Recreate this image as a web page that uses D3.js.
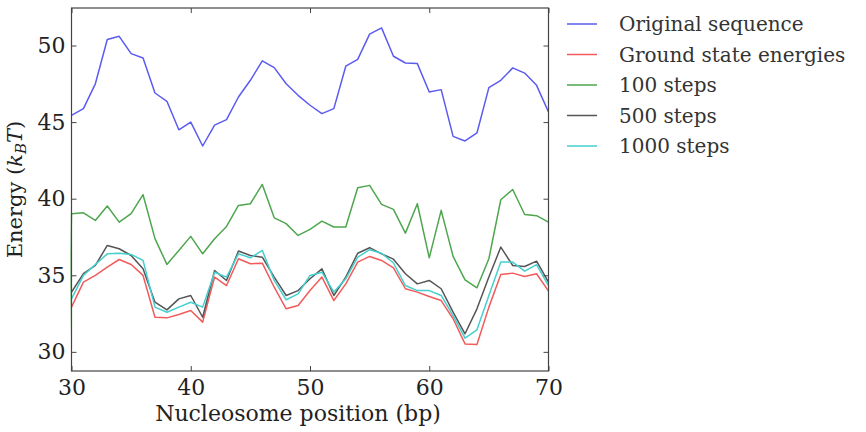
<!DOCTYPE html>
<html>
<head>
<meta charset="UTF-8">
<title>Nucleosome energies</title>
<script src="https://d3js.org/d3.v7.min.js"></script>
<style>
  body { margin: 0; background: #fff; }
  svg { display: block; font-family: "DejaVu Serif", serif; }
</style>
</head>
<body>
<svg id="chart" width="866" height="432"></svg>
<script>
// positions (bp); 29 only carries the clipped lead-in of the 100-step curve
var positions = d3.range(29, 71);

var original = [null,
  45.44, 45.88, 47.5, 50.39, 50.6, 49.47, 49.19, 46.9, 46.36, 44.5,
  45.0, 43.44, 44.8, 45.16, 46.64, 47.73, 49.0, 48.56, 47.5, 46.75,
  46.1, 45.55, 45.88, 48.65, 49.1, 50.74, 51.15, 49.3, 48.86, 48.82,
  46.97, 47.12, 44.07, 43.77, 44.29, 47.25, 47.73, 48.54, 48.2, 47.4, 45.66];

var ground = [null,
  32.92, 34.55, 34.99, 35.53, 36.03, 35.7, 34.99, 32.26, 32.22, 32.44,
  32.7, 31.94, 34.88, 34.33, 36.08, 35.75, 35.79, 34.22, 32.81, 33.03,
  34.0, 34.88, 33.35, 34.44, 35.86, 36.23, 35.97, 35.48, 34.12, 33.9,
  33.61, 33.35, 32.16, 30.52, 30.48, 32.92, 35.05, 35.14, 34.92, 35.1, 33.96];

var steps100 = [-5,
  39.02, 39.08, 38.58, 39.52, 38.47, 39.02, 40.26, 37.39, 35.71, 36.62,
  37.54, 36.4, 37.39, 38.19, 39.56, 39.67, 40.93, 38.75, 38.37, 37.6,
  38.0, 38.54, 38.15, 38.15, 40.72, 40.87, 39.63, 39.3, 37.75, 39.67,
  36.14, 39.24, 36.23, 34.7, 34.18, 36.08, 39.93, 40.6, 38.97, 38.89, 38.47];

var steps500 = [null,
  33.9, 35.1, 35.64, 36.95, 36.73, 36.29, 35.42, 33.24, 32.74, 33.46,
  33.68, 32.26, 35.31, 34.66, 36.58, 36.29, 36.18, 34.88, 33.68, 34.0,
  34.77, 35.42, 33.68, 34.88, 36.44, 36.8, 36.4, 36.05, 35.1, 34.44,
  34.66, 34.12, 32.59, 31.18, 32.81, 34.88, 36.84, 35.64, 35.57, 35.92, 34.55];

var steps1000 = [null,
  33.46, 34.99, 35.7, 36.4, 36.44, 36.36, 35.97, 32.92, 32.59, 32.92,
  33.24, 32.92, 35.2, 34.88, 36.4, 36.14, 36.62, 34.66, 33.4, 33.79,
  34.99, 35.2, 33.9, 34.77, 36.18, 36.67, 36.44, 35.8, 34.33, 34.0,
  34.0, 33.68, 32.37, 30.89, 31.44, 33.68, 35.86, 35.86, 35.27, 35.7, 34.33];

var seriesNames = ["Original sequence", "Ground state energies", "100 steps", "500 steps", "1000 steps"];
var seriesColors = ["#5b5bf2", "#f25b5b", "#4ea64e", "#555555", "#45cfcf"];
var allSeries = [original, ground, steps100, steps500, steps1000];

var xTicks = [30, 40, 50, 60, 70];
var yTicks = [30, 35, 40, 45, 50];

var svg = d3.select("#chart");
var plotLeft = 71.5, plotRight = 548.5, plotTop = 8, plotBottom = 371;

var x = d3.scaleLinear().domain([30, 70]).range([plotLeft, plotRight]);
var y = d3.scaleLinear().domain([28.75, 52.45]).range([plotBottom, plotTop]);

svg.append("clipPath").attr("id", "plotclip")
  .append("rect")
  .attr("x", plotLeft - 1).attr("y", plotTop)
  .attr("width", plotRight - plotLeft + 1).attr("height", plotBottom - plotTop);

var line = d3.line()
  .defined(function(d) { return d[1] != null; })
  .x(function(d) { return x(d[0]); })
  .y(function(d) { return y(d[1]); });

var plot = svg.append("g").attr("clip-path", "url(#plotclip)");
allSeries.forEach(function(vals, i) {
  var pts = positions.map(function(p, j) { return [p, vals[j]]; });
  plot.append("path")
    .attr("d", line(pts))
    .attr("fill", "none")
    .attr("stroke", seriesColors[i])
    .attr("stroke-width", 1.5)
    .attr("stroke-linejoin", "round");
});

// axes, classic style: ticks pointing inward on all four sides
var tickLen = 5;
var axColor = "#444";
svg.append("g").attr("transform", "translate(0," + plotBottom + ")")
  .call(d3.axisBottom(x).tickValues(xTicks).tickSize(-tickLen).tickPadding(8).tickFormat(d3.format("d")));
svg.append("g").attr("transform", "translate(0," + plotTop + ")")
  .call(d3.axisTop(x).tickValues(xTicks).tickSize(-tickLen).tickFormat(""));
svg.append("g").attr("transform", "translate(" + plotLeft + ",0)")
  .call(d3.axisLeft(y).tickValues(yTicks).tickSize(-tickLen).tickPadding(6).tickFormat(d3.format("d")));
svg.append("g").attr("transform", "translate(" + plotRight + ",0)")
  .call(d3.axisRight(y).tickValues(yTicks).tickSize(-tickLen).tickFormat(""));

svg.selectAll(".domain").remove();
svg.selectAll(".tick line").attr("stroke", axColor);
svg.selectAll(".tick text")
  .attr("font-family", "DejaVu Serif, serif")
  .attr("font-size", 22)
  .attr("fill", "#222");

svg.append("rect")
  .attr("x", plotLeft).attr("y", plotTop)
  .attr("width", plotRight - plotLeft).attr("height", plotBottom - plotTop)
  .attr("fill", "none").attr("stroke", axColor).attr("stroke-width", 1.2);

// axis labels
svg.append("text")
  .attr("x", (plotLeft + plotRight) / 2 - 12).attr("y", 421)
  .attr("text-anchor", "middle")
  .attr("font-size", 22).attr("fill", "#222")
  .text("Nucleosome position (bp)");

var yl = svg.append("text")
  .attr("transform", "translate(22," + ((plotTop + plotBottom) / 2) + ") rotate(-90)")
  .attr("text-anchor", "middle")
  .attr("font-size", 21).attr("fill", "#222");
yl.append("tspan").text("Energy (");
yl.append("tspan").attr("font-style", "italic").text("k");
yl.append("tspan").attr("font-style", "italic").attr("font-size", 15).attr("dy", 4).text("B");
yl.append("tspan").attr("font-style", "italic").attr("dy", -4).text("T");
yl.append("tspan").text(")");

// legend
var legend = svg.append("g").attr("transform", "translate(567,24)");
seriesNames.forEach(function(name, i) {
  var row = legend.append("g").attr("transform", "translate(0," + (i * 30.5) + ")");
  row.append("line")
    .attr("x1", 0).attr("x2", 30).attr("y1", 0).attr("y2", 0)
    .attr("stroke", seriesColors[i]).attr("stroke-width", 1.5);
  row.append("text")
    .attr("x", 52).attr("y", 0).attr("dy", "0.35em")
    .attr("font-size", 20).attr("fill", "#333")
    .text(name);
});
</script>
</body>
</html>
